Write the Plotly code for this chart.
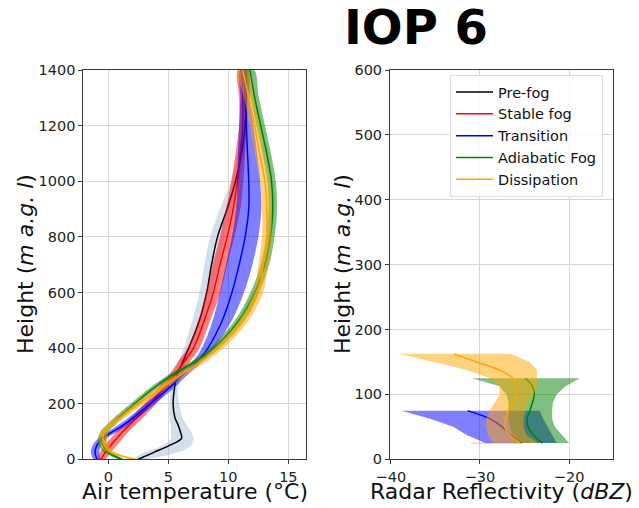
import plotly.graph_objects as go

# ---------------- data ----------------
phases = ["Pre-fog", "Stable fog", "Transition", "Adiabatic Fog", "Dissipation"]

# Air temperature profiles (°C) vs height (m a.g.l)
height_T = [0, 25, 50, 75, 100, 125, 150, 200, 250, 300, 350, 400, 500, 600, 700, 800,
            900, 1000, 1100, 1200, 1300, 1400]

prefog_T = [2.5, 3.8, 5.1, 6.1, 6.0, 5.8, 5.55, 5.4, 5.5, 5.7, 6.2, 6.7, 7.6, 8.2, 8.6, 9.1,
            9.9, 10.6, 11.1, 11.4, 11.5, 11.5]
prefog_T_lo = [2.0, 3.0, 4.5, 5.2, 5.2, 5.2, 5.1, 5.1, 5.2, 5.4, 5.8, 6.3, 7.0, 7.6, 8.0, 8.5,
               9.3, 10.2, 10.8, 11.2, 11.3, 11.3]
prefog_T_hi = [3.2, 5.8, 6.9, 7.1, 6.9, 6.5, 6.2, 5.9, 5.8, 6.0, 6.5, 7.0, 8.0, 8.6, 9.2, 9.7,
               10.3, 10.9, 11.3, 11.6, 11.7, 11.7]

stable_T = [-0.6, -0.25, 0.2, 0.7, 1.2, 1.8, 2.4, 3.5, 4.5, 5.5, 6.3, 7.1, 8.0, 8.75, 9.3, 9.9,
            10.4, 10.75, 11.0, 11.2, 11.2, 11.1]
stable_T_lo = [-0.9, -0.7, -0.3, 0.2, 0.7, 1.3, 1.9, 3.0, 4.0, 5.0, 5.8, 6.6, 7.5, 8.15, 8.7, 9.3,
               9.8, 10.25, 10.6, 10.9, 10.9, 10.8]
stable_T_hi = [-0.2, 0.2, 0.7, 1.2, 1.7, 2.3, 2.9, 4.0, 5.0, 6.0, 6.8, 7.6, 8.5, 9.35, 9.9, 10.5,
               11.0, 11.25, 11.4, 11.5, 11.5, 11.4]

trans_T = [-0.95, -1.1, -0.95, -0.5, 0.4, 1.3, 2.1, 3.5, 4.9, 6.1, 7.4, 8.3, 9.5, 10.3, 10.9, 11.4,
           11.7, 11.7, 11.6, 11.5, 11.4, 11.3]
trans_T_lo = [-1.25, -1.45, -1.3, -0.85, 0.0, 0.9, 1.7, 3.1, 4.5, 5.7, 7.0, 7.8, 8.7, 9.3, 9.8, 10.3,
              10.65, 10.75, 10.8, 10.9, 11.0, 11.0]
trans_T_hi = [-0.65, -0.75, -0.6, -0.15, 0.8, 1.7, 2.5, 3.9, 5.3, 6.5, 7.8, 8.8, 10.3, 11.3, 12.0, 12.5,
              12.75, 12.65, 12.4, 12.1, 11.8, 11.6]

adiab_T = [1.1, 0.0, -0.45, -0.5, -0.3, 0.25, 0.85, 2.2, 3.6, 5.2, 7.2, 8.8, 10.9, 12.2, 13.05, 13.5,
           13.7, 13.6, 13.2, 12.7, 12.2, 11.8]
adiab_T_lo = [0.8, -0.35, -0.8, -0.85, -0.65, -0.1, 0.5, 1.85, 3.25, 4.85, 6.85, 8.45, 10.55, 11.85,
              12.7, 13.15, 13.35, 13.25, 12.85, 12.35, 11.85, 11.45]
adiab_T_hi = [1.4, 0.35, -0.1, -0.15, 0.05, 0.6, 1.2, 2.55, 3.95, 5.55, 7.55, 9.15, 11.25, 12.55,
              13.4, 13.85, 14.05, 13.95, 13.55, 13.05, 12.55, 12.15]

dissip_T = [2.2, 0.3, -0.3, -0.45, -0.3, 0.25, 1.0, 2.6, 4.2, 5.9, 7.7, 9.2, 11.3, 12.5, 12.9, 13.2,
            13.2, 13.05, 12.6, 12.2, 11.7, 11.2]
dissip_T_lo = [1.9, -0.05, -0.65, -0.8, -0.65, -0.1, 0.6, 2.2, 3.8, 5.5, 7.3, 8.8, 10.9, 12.1, 12.5,
               12.8, 12.8, 12.65, 12.2, 11.8, 11.3, 10.8]
dissip_T_hi = [2.5, 0.65, 0.05, -0.1, 0.05, 0.6, 1.4, 3.0, 4.6, 6.3, 8.1, 9.6, 11.7, 12.9, 13.3, 13.6,
               13.6, 13.45, 13.0, 12.6, 12.1, 11.6]

# Radar reflectivity profiles (dBZ) vs height (m a.g.l)
height_Z = [25, 37.5, 50, 62.5, 75, 87.5, 100, 112.5, 125, 137.5, 150, 162.5]

stable_Z = [-28.2]
stable_Z_lo = [-31.0]
stable_Z_hi = [-25.5]

trans_Z = [-25.3, -26.6, -27.5, -28.9, -31.4]
trans_Z_lo = [-29.4, -31.5, -33.0, -35.6, -38.8]
trans_Z_hi = [-21.4, -21.9, -22.4, -22.9, -23.3]

adiab_Z = [-23.0, -24.0, -24.6, -24.7, -24.4, -24.1, -23.9, -24.1, -24.9]
adiab_Z_lo = [-26.0, -26.4, -26.6, -26.8, -26.8, -26.8, -27.0, -27.8, -30.9]
adiab_Z_hi = [-20.0, -20.8, -21.6, -21.9, -21.9, -21.8, -21.4, -20.4, -18.8]

dissip_Z = [-25.5, -26.7, -27.2, -27.1, -26.8, -26.3, -25.9, -25.8, -26.3, -27.8, -30.4, -32.9]
dissip_Z_lo = [-28.5, -29.1, -29.3, -29.3, -28.9, -28.3, -27.8, -27.8, -28.9, -31.5, -35.1, -39.1]
dissip_Z_hi = [-23.5, -24.8, -25.1, -25.1, -24.9, -24.6, -24.0, -23.6, -23.6, -23.6, -24.4, -26.6]

# ---------------- styles ----------------
line_colors = {"Pre-fog": "black", "Stable fog": "red", "Transition": "blue",
               "Adiabatic Fog": "green", "Dissipation": "orange"}
fill_colors = {"Pre-fog": "rgba(176,196,222,0.55)", "Stable fog": "rgba(255,0,0,0.5)",
               "Transition": "rgba(0,0,255,0.5)", "Adiabatic Fog": "rgba(0,128,0,0.5)",
               "Dissipation": "rgba(255,165,0,0.5)"}

W, H = 639, 508
FONT = "DejaVu Sans"

fig = go.Figure()


def band(xaxis, yaxis, name, h, lo, hi, shape):
    fig.add_trace(go.Scatter(
        x=list(lo) + list(hi)[::-1], y=list(h) + list(h)[::-1],
        fill="toself", fillcolor=fill_colors[name], mode="lines",
        line=dict(width=0, color=fill_colors[name], shape=shape),
        hoverinfo="skip", showlegend=False, xaxis=xaxis, yaxis=yaxis))


def line(xaxis, yaxis, name, h, x, shape, legend):
    fig.add_trace(go.Scatter(
        x=x, y=h, mode="lines", name=name,
        line=dict(color=line_colors[name], width=1.5, shape=shape),
        showlegend=legend, xaxis=xaxis, yaxis=yaxis))


T_sets = [("Pre-fog", prefog_T, prefog_T_lo, prefog_T_hi),
          ("Stable fog", stable_T, stable_T_lo, stable_T_hi),
          ("Transition", trans_T, trans_T_lo, trans_T_hi),
          ("Adiabatic Fog", adiab_T, adiab_T_lo, adiab_T_hi),
          ("Dissipation", dissip_T, dissip_T_lo, dissip_T_hi)]
for name, c, lo, hi in T_sets:
    band("x", "y", name, height_T, lo, hi, "spline")
    line("x", "y", name, height_T, c, "spline", True)

Z_sets = [("Stable fog", stable_Z, stable_Z_lo, stable_Z_hi),
          ("Transition", trans_Z, trans_Z_lo, trans_Z_hi),
          ("Adiabatic Fog", adiab_Z, adiab_Z_lo, adiab_Z_hi),
          ("Dissipation", dissip_Z, dissip_Z_lo, dissip_Z_hi)]
for name, c, lo, hi in Z_sets:
    n = len(c)
    if n == 1:
        fig.add_trace(go.Scatter(
            x=[lo[0], hi[0]], y=[height_Z[0], height_Z[0]], mode="lines",
            line=dict(color="rgba(255,0,0,0.25)", width=1.2),
            hoverinfo="skip", showlegend=False, xaxis="x2", yaxis="y2"))
        continue
    band("x2", "y2", name, height_Z[:n], lo, hi, "linear")
    line("x2", "y2", name, height_Z[:n], c, "spline", False)

ax_common = dict(showline=True, mirror=True, linecolor="#3a3a3a", linewidth=1,
                 ticks="outside", ticklen=4, tickcolor="#3a3a3a", automargin=False,
                 showgrid=True, gridcolor="#d6d6d6", gridwidth=1, zeroline=False,
                 tickfont=dict(family=FONT, size=14.5, color="#222"))

ydom = [1 - 459.3 / H, 1 - 70 / H]
fig.update_layout(
    width=W, height=H, margin=dict(l=0, r=0, t=0, b=0, autoexpand=False),
    paper_bgcolor="white", plot_bgcolor="white",
    font=dict(family=FONT, color="#111"),
    xaxis=dict(domain=[83.3 / W, 306 / W], range=[-2.08, 16.47],
               tickvals=[0, 5, 10, 15], anchor="y", **ax_common),
    yaxis=dict(domain=ydom, range=[0, 1400], dtick=200, anchor="x", **ax_common),
    xaxis2=dict(domain=[390 / W, 612.7 / W], range=[-40.1, -15.1],
                tickvals=[-40, -30, -20], anchor="y2", **ax_common),
    yaxis2=dict(domain=ydom, range=[0, 600], dtick=100, anchor="x2", **ax_common),
    legend=dict(x=450 / W, y=1 - 75 / H, xanchor="left", yanchor="top", itemwidth=37,
                bgcolor="rgba(255,255,255,0.85)", bordercolor="#dddddd", borderwidth=1,
                font=dict(family=FONT, size=14.5, color="#111")),
    showlegend=True,
)

ann = [
    dict(text="<b>IOP 6</b>", x=416 / W, y=1 - 27 / H, font=dict(family=FONT, size=48, color="black")),
    dict(text="Air temperature (°C)", x=194.7 / W, y=1 - 491.5 / H, font=dict(family=FONT, size=22, color="#111")),
    dict(text="Radar Reflectivity (<i>dBZ</i>)", x=501 / W, y=1 - 491.5 / H, font=dict(family=FONT, size=22, color="#111")),
    dict(text="Height (<i>m a.g. l</i>)", x=25 / W, y=1 - 264 / H, textangle=-90, font=dict(family=FONT, size=22, color="#111")),
    dict(text="Height (<i>m a.g. l</i>)", x=342 / W, y=1 - 264 / H, textangle=-90, font=dict(family=FONT, size=22, color="#111")),
]
for a in ann:
    fig.add_annotation(xref="paper", yref="paper", xanchor="center", yanchor="middle",
                       showarrow=False, **a)

fig.write_html("out.html")
